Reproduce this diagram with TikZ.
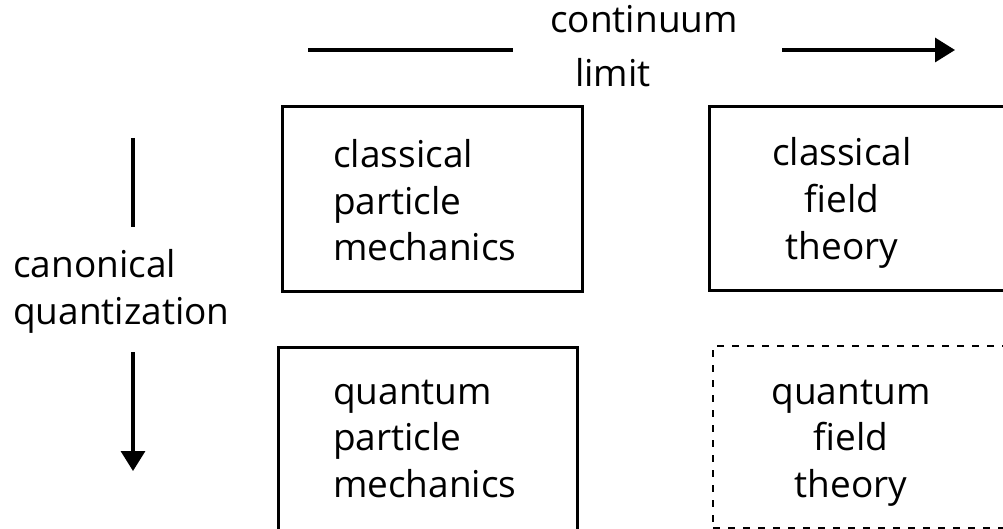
\documentclass[tikz,border=0pt]{standalone}
\usepackage{fontspec}
\setmainfont{Open Sans}
\usetikzlibrary{arrows.meta}
\begin{document}
\begin{tikzpicture}[x=1pt,y=-1pt,
  boxstyle/.style={draw, line width=3pt, inner sep=0pt},
  dashbox/.style={draw, line width=2.6pt, dash pattern=on 7pt off 8pt, inner sep=0pt},
  txt/.style={font=\fontsize{37}{46.5}\selectfont, inner sep=0pt},
  conn/.style={line width=3.4pt},
  arr/.style={line width=3.4pt, -{Triangle[width=24pt,length=20pt]}}]
\clip (0,0) rectangle (1003,529);
\fill[white] (0,0) rectangle (1003,529);
% boxes
\node[boxstyle, minimum width=300pt, minimum height=184pt] (cpm) at (432,199) {};
\node[boxstyle, minimum width=301pt, minimum height=183pt] (cft) at (859.5,198.5) {};
\node[boxstyle, minimum width=299pt, minimum height=213pt] (qpm) at (427.5,453.5) {};
\node[dashbox, minimum width=297pt, minimum height=182pt] (qft) at (861.5,437) {};
% box texts (base anchor = baseline of the last line)
\node[txt, align=left, anchor=base west] (cpmt) at (333,261) {classical\\particle\\mechanics};
\node[txt, align=center, anchor=base] (cftt) at (842,259) {classical\\field\\theory};
\node[txt, align=left, anchor=base west] (qpmt) at (333,497) {quantum\\particle\\mechanics};
\node[txt, align=center, anchor=base] (qftt) at (851,497) {quantum\\field\\theory};
% labels
\node[txt, anchor=base west] (cont) at (550,33) {continuum};
\node[txt, anchor=base west] (lim) at (575,87) {limit};
\node[txt, align=left, anchor=base west] (canq) at (13,324) {canonical\\quantization};
% connectors
\coordinate (h1) at (308,50);
\coordinate (h2) at (513,50);
\coordinate (h3) at (782,50);
\coordinate (h4) at (955,50);
\coordinate (v1) at (133,138);
\coordinate (v2) at (133,227);
\coordinate (v3) at (133,352);
\coordinate (v4) at (133,471);
\draw[conn] (h1) -- (h2);
\draw[arr] (h3) -- (h4);
\draw[conn] (v1) -- (v2);
\draw[arr] (v3) -- (v4);
\end{tikzpicture}
\end{document}
